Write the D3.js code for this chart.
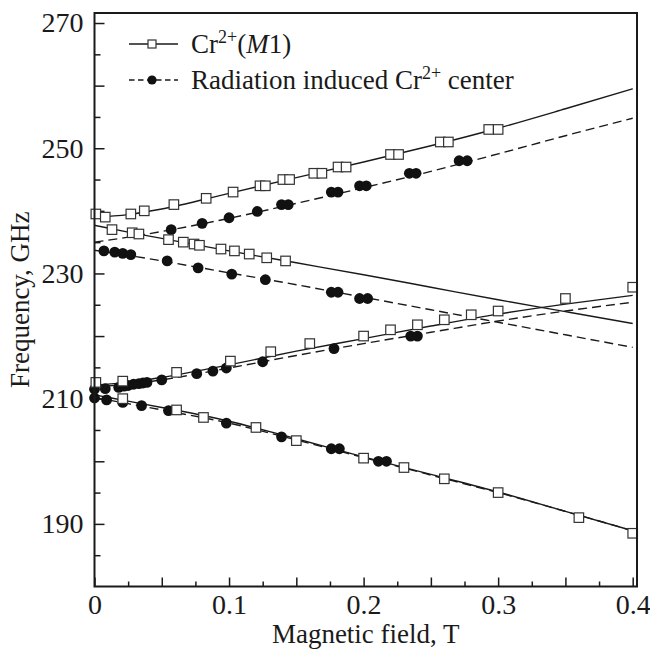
<!DOCTYPE html>
<html>
<head>
<meta charset="utf-8">
<script src="https://cdn.jsdelivr.net/npm/d3@7"></script>
<style>
    html, body { margin: 0; padding: 0; background: #fff; }
    svg { display: block; font-family: "Liberation Serif", "Times New Roman", serif; }
</style>
</head>
<body>
<svg id="chart" width="650" height="655"></svg>
<script>
(function() {
    'use strict';

    // Fitted curves, sampled along the field axis (T) -> frequency (GHz)
    const fitField = [0, 0.025, 0.05, 0.1, 0.15, 0.2, 0.25, 0.3, 0.35, 0.4];
    const m1FitA  = [239.0, 239.4, 240.3, 242.8, 245.3, 247.8, 250.4, 253.2, 256.3, 259.5];
    const m1FitB  = [237.7, 236.6, 235.6, 233.6, 231.7, 229.8, 227.8, 225.8, 223.9, 222.0];
    const m1FitC  = [212.2, 212.6, 213.4, 215.4, 217.6, 219.6, 221.6, 223.5, 225.1, 226.5];
    const m1FitD  = [210.6, 209.6, 208.6, 206.4, 203.6, 200.7, 197.9, 195.1, 192.0, 188.9];
    const radFitA = [235.0, 235.8, 236.7, 238.8, 241.2, 243.7, 246.3, 249.1, 252.0, 254.8];
    const radFitB = [233.7, 232.9, 232.0, 230.1, 228.2, 226.2, 224.2, 222.2, 220.2, 218.2];
    const radFitC = [211.9, 212.3, 213.0, 214.9, 216.9, 218.8, 220.6, 222.4, 224.0, 225.4];
    const radFitD = [210.2, 209.2, 208.2, 206.1, 203.4, 200.6, 197.8, 195.0, 192.0, 188.9];

    // Measured points [field T, frequency GHz]
    const m1Points = [
        // upper branch
        [0.001, 239.5], [0.008, 239.0], [0.027, 239.5], [0.037, 240.0], [0.059, 241.0],
        [0.083, 242.0], [0.103, 243.0], [0.123, 244.0], [0.127, 244.0], [0.140, 245.0],
        [0.145, 245.0], [0.163, 246.0], [0.169, 246.0], [0.181, 247.0], [0.187, 247.0],
        [0.220, 249.0], [0.226, 249.0], [0.257, 251.0], [0.263, 251.0], [0.293, 253.0],
        [0.300, 253.0],
        // second branch (descending)
        [0.013, 237.0], [0.028, 236.5], [0.033, 236.3], [0.055, 235.4], [0.066, 235.0],
        [0.074, 234.7], [0.078, 234.5], [0.094, 233.9], [0.104, 233.6], [0.115, 233.1],
        [0.128, 232.5], [0.142, 232.0],
        // third branch (ascending)
        [0.001, 212.6], [0.021, 212.8], [0.061, 214.2], [0.101, 216.0], [0.131, 217.5],
        [0.160, 218.8], [0.200, 220.0], [0.220, 221.0], [0.240, 221.8], [0.260, 222.6],
        [0.280, 223.4], [0.300, 224.0], [0.350, 226.0], [0.400, 227.8],
        // lowest branch (descending)
        [0.021, 210.0], [0.061, 208.2], [0.081, 207.0], [0.120, 205.4], [0.150, 203.3],
        [0.200, 200.5], [0.230, 199.0], [0.260, 197.2], [0.300, 195.0], [0.360, 191.0],
        [0.400, 188.5]
    ];

    const radPoints = [
        // upper branch
        [0.057, 237.0], [0.080, 238.0], [0.100, 238.9], [0.121, 239.9], [0.139, 241.0],
        [0.144, 241.0], [0.176, 243.0], [0.181, 243.0], [0.197, 244.0], [0.202, 244.0],
        [0.234, 246.0], [0.239, 246.0], [0.271, 248.0], [0.277, 248.0],
        // second branch (descending)
        [0.007, 233.6], [0.015, 233.4], [0.021, 233.2], [0.027, 233.0], [0.054, 232.0],
        [0.077, 230.9], [0.102, 229.9], [0.127, 229.0], [0.176, 227.0], [0.181, 227.0],
        [0.197, 226.0], [0.203, 226.0],
        // third branch (ascending)
        [0.000, 211.5], [0.008, 211.6], [0.018, 211.8], [0.022, 212.0], [0.025, 212.1],
        [0.029, 212.3], [0.033, 212.4], [0.036, 212.5], [0.039, 212.6], [0.050, 213.0],
        [0.076, 214.0], [0.088, 214.4], [0.098, 214.9], [0.125, 215.9], [0.178, 218.0],
        [0.235, 220.0], [0.240, 220.0],
        // lowest branch (descending)
        [0.000, 210.1], [0.009, 209.8], [0.021, 209.4], [0.035, 208.9], [0.055, 208.1],
        [0.098, 206.1], [0.139, 203.9], [0.176, 202.0], [0.182, 202.0], [0.211, 200.0],
        [0.217, 200.0]
    ];

    const xTickValues = [0, 0.025, 0.05, 0.075, 0.1, 0.125, 0.15, 0.175, 0.2,
                         0.225, 0.25, 0.275, 0.3, 0.325, 0.35, 0.375, 0.4];
    const xTickLabels = [0, 0.1, 0.2, 0.3, 0.4];
    const yTickValues = [185, 190, 195, 200, 205, 210, 215, 220, 225, 230,
                         235, 240, 245, 250, 255, 260, 265, 270];
    const yTickLabels = [190, 210, 230, 250, 270];

    const legendLabels = ['Cr', 'Radiation induced Cr'];

    // Layout
    const CONFIG = {
        left: 94.5, right: 637, top: 13, bottom: 586.5,
        ink: '#1a1a1a',
        lineWidth: 1.4,
        dash: '9,5',
        square: 9.5,
        dotRadius: 5.4
    };

    const svg = d3.select('#chart');

    const x = d3.scaleLinear().domain([0, 0.4032]).range([CONFIG.left, CONFIG.right]);
    const y = d3.scaleLinear().domain([180, 271.6]).range([CONFIG.bottom, CONFIG.top]);

    // Axes (ticks point inward)
    const xMinor = d3.axisBottom(x)
        .tickValues(xTickValues.filter(v => Math.round(v * 1000) % 50 !== 0))
        .tickSize(-5).tickFormat('');
    const xMajor = d3.axisBottom(x)
        .tickValues(xTickValues.filter(v => Math.round(v * 1000) % 50 === 0))
        .tickSize(-9)
        .tickPadding(8)
        .tickFormat(v => xTickLabels.some(t => Math.abs(t - v) < 1e-6) ? (v === 0 ? '0' : v.toFixed(1)) : '');

    const yMinor = d3.axisLeft(y)
        .tickValues(yTickValues.filter(v => v % 10 !== 0))
        .tickSize(-6).tickFormat('');
    const yMajor = d3.axisLeft(y)
        .tickValues(yTickValues.filter(v => v % 10 === 0))
        .tickSize(-10)
        .tickPadding(11)
        .tickFormat(v => yTickLabels.includes(v) ? String(v) : '');

    function styleAxis(g) {
        g.select('.domain').remove();
        g.selectAll('line').attr('stroke', CONFIG.ink).attr('stroke-width', 1.5);
        g.selectAll('text')
            .attr('fill', CONFIG.ink)
            .attr('font-family', '"Liberation Serif", serif')
            .attr('font-size', 28);
    }

    svg.append('g').attr('transform', `translate(0,${CONFIG.bottom})`).call(xMinor).call(styleAxis);
    svg.append('g').attr('transform', `translate(0,${CONFIG.bottom})`).call(xMajor).call(styleAxis);
    svg.append('g').attr('transform', `translate(${CONFIG.left},0)`).call(yMinor).call(styleAxis);
    svg.append('g').attr('transform', `translate(${CONFIG.left},0)`).call(yMajor).call(styleAxis);

    // Fitted curves
    const line = d3.line()
        .x(d => x(d[0]))
        .y(d => y(d[1]))
        .curve(d3.curveMonotoneX);

    const fits = [
        { values: m1FitA, dashed: false }, { values: m1FitB, dashed: false },
        { values: m1FitC, dashed: false }, { values: m1FitD, dashed: false },
        { values: radFitA, dashed: true }, { values: radFitB, dashed: true },
        { values: radFitC, dashed: true }, { values: radFitD, dashed: true }
    ];

    svg.append('g')
        .selectAll('path')
        .data(fits)
        .join('path')
        .attr('d', d => line(fitField.map((f, i) => [f, d.values[i]])))
        .attr('fill', 'none')
        .attr('stroke', CONFIG.ink)
        .attr('stroke-width', CONFIG.lineWidth)
        .attr('stroke-dasharray', d => d.dashed ? CONFIG.dash : null);

    // Radiation induced centre: filled circles
    svg.append('g')
        .selectAll('circle')
        .data(radPoints)
        .join('circle')
        .attr('cx', d => x(d[0]))
        .attr('cy', d => y(d[1]))
        .attr('r', CONFIG.dotRadius)
        .attr('fill', '#111');

    // Cr2+(M1): open squares
    const s = CONFIG.square;
    svg.append('g')
        .selectAll('rect')
        .data(m1Points)
        .join('rect')
        .attr('x', d => x(d[0]) - s / 2)
        .attr('y', d => y(d[1]) - s / 2)
        .attr('width', s)
        .attr('height', s)
        .attr('fill', '#fff')
        .attr('stroke', '#333')
        .attr('stroke-width', 1.2);

    // Frame
    svg.append('rect')
        .attr('x', CONFIG.left)
        .attr('y', CONFIG.top)
        .attr('width', CONFIG.right - CONFIG.left)
        .attr('height', CONFIG.bottom - CONFIG.top)
        .attr('fill', 'none')
        .attr('stroke', CONFIG.ink)
        .attr('stroke-width', 2);

    // Legend
    const legend = svg.append('g').attr('font-size', 27).attr('fill', CONFIG.ink);

    legend.append('line')
        .attr('x1', 129).attr('x2', 178).attr('y1', 44).attr('y2', 44)
        .attr('stroke', CONFIG.ink).attr('stroke-width', 1.3);
    legend.append('rect')
        .attr('x', 148).attr('y', 40).attr('width', 8).attr('height', 8)
        .attr('fill', '#fff').attr('stroke', '#333').attr('stroke-width', 1.2);

    const t1 = legend.append('text').attr('x', 191).attr('y', 53);
    t1.append('tspan').text(legendLabels[0]);
    t1.append('tspan').attr('font-size', 18).attr('dy', -10).text('2+');
    t1.append('tspan').attr('dy', 10).text('(');
    t1.append('tspan').attr('font-style', 'italic').text('M');
    t1.append('tspan').text('1)');

    legend.append('line')
        .attr('x1', 129).attr('x2', 178).attr('y1', 80).attr('y2', 80)
        .attr('stroke', CONFIG.ink).attr('stroke-width', 1.3)
        .attr('stroke-dasharray', '5.5,3.5');
    legend.append('circle')
        .attr('cx', 152).attr('cy', 80).attr('r', 4.6).attr('fill', '#111');

    const t2 = legend.append('text').attr('x', 191).attr('y', 89);
    t2.append('tspan').text(legendLabels[1]);
    t2.append('tspan').attr('font-size', 18).attr('dy', -10).text('2+');
    t2.append('tspan').attr('dy', 10).text(' center');

    // Axis titles
    svg.append('text')
        .attr('x', (CONFIG.left + CONFIG.right) / 2)
        .attr('y', 643)
        .attr('text-anchor', 'middle')
        .attr('font-size', 27)
        .attr('fill', CONFIG.ink)
        .text('Magnetic field, T');

    svg.append('text')
        .attr('transform', `translate(29,${(CONFIG.top + CONFIG.bottom) / 2}) rotate(-90)`)
        .attr('text-anchor', 'middle')
        .attr('font-size', 27)
        .attr('fill', CONFIG.ink)
        .text('Frequency, GHz');
})();
</script>
</body>
</html>
